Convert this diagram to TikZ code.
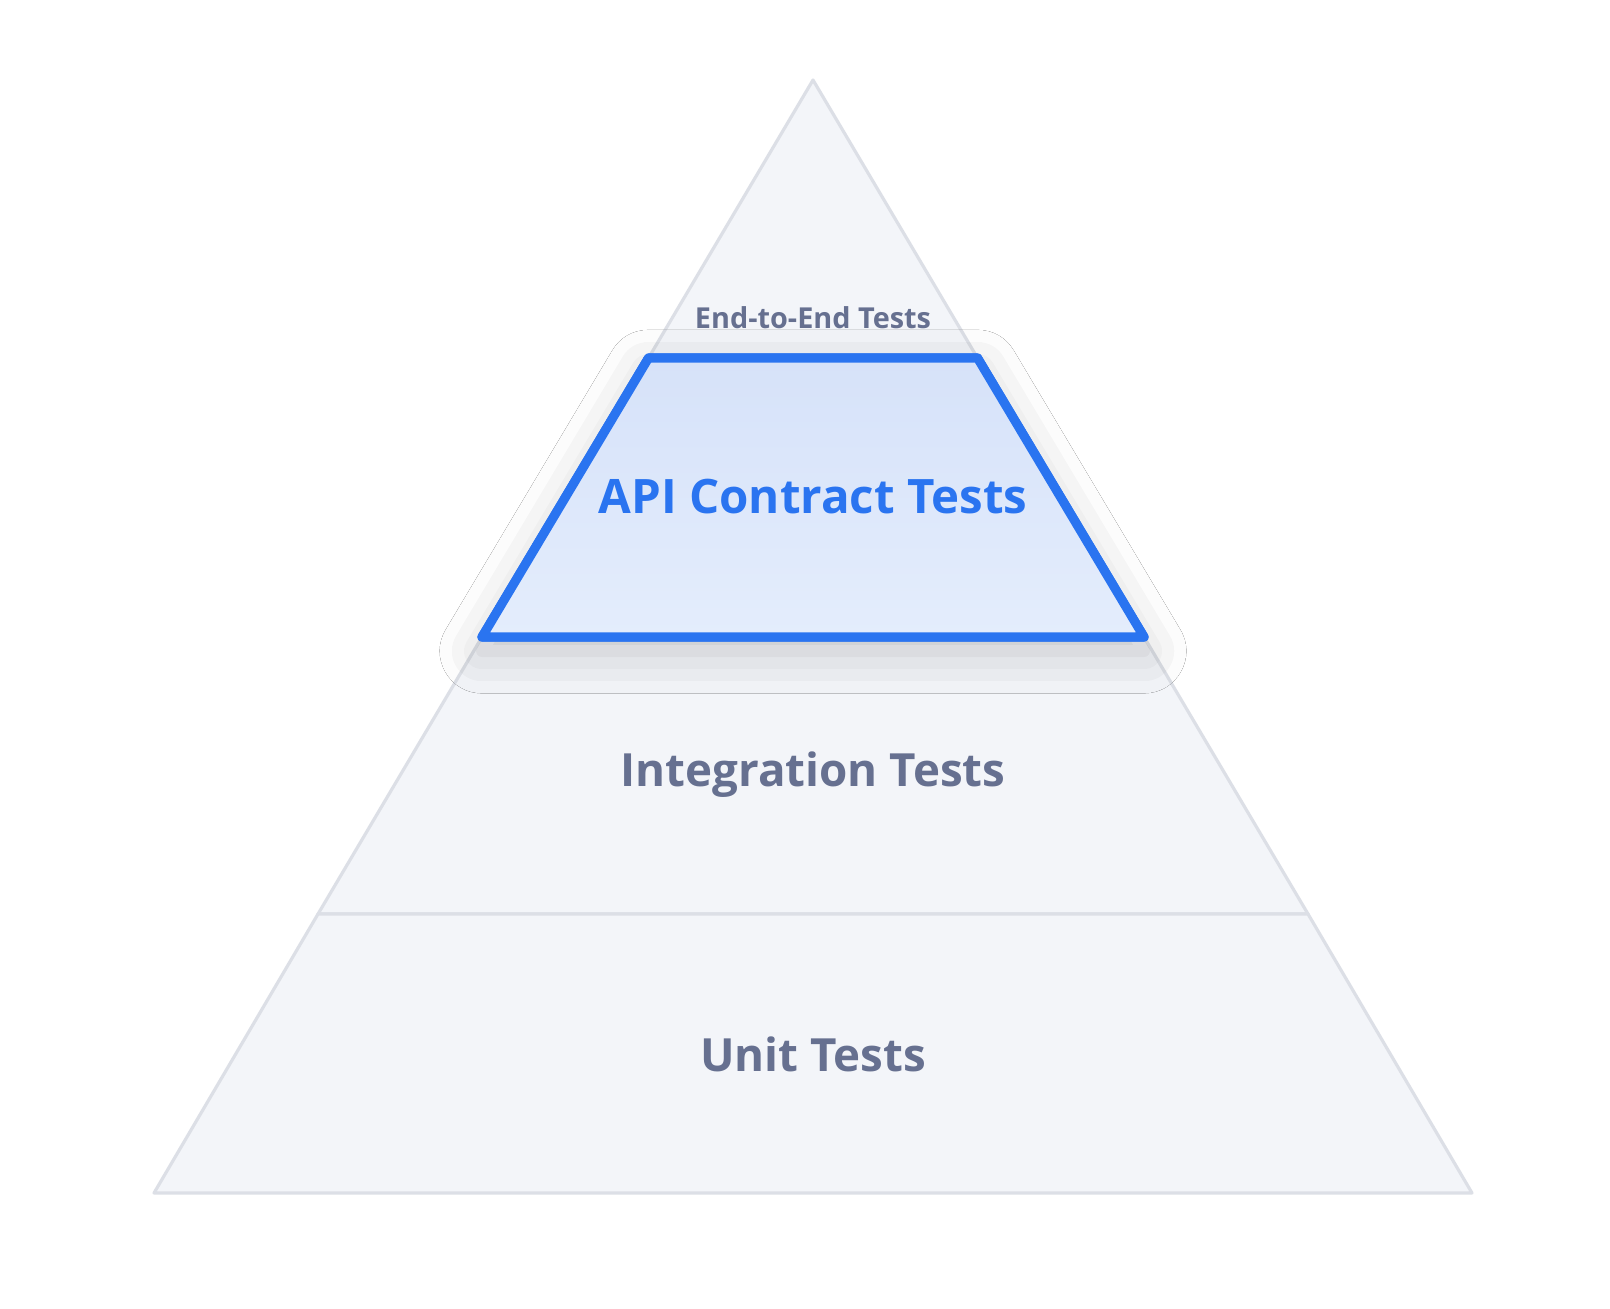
\documentclass[tikz,border=0pt]{standalone}
\usepackage{fontspec}
\setmainfont{Open Sans}
\usetikzlibrary{shadows.blur}
\definecolor{txt}{HTML}{667090}
\definecolor{blu}{HTML}{2A74F0}
\definecolor{lay}{HTML}{F3F5F9}
\definecolor{edg}{HTML}{DCDFE6}
\begin{document}
\begin{tikzpicture}[x=0.01cm,y=-0.01cm,
  layer/.style={fill=lay,draw=edg,line width=0.9pt,line join=round},
  lbl/.style={text=txt,font=\bfseries}]
\useasboundingbox[fill=white] (0,0) rectangle (1610,1308);
\coordinate (A) at (813,80);
\draw[layer] (A) -- (648.5,358) -- (977.5,358) -- cycle;
\draw[layer] (318,914) -- (1308,914) -- (1144,637) -- (482,637) -- cycle;
\draw[layer] (154,1193) -- (1472,1193) -- (1308,914) -- (318,914) -- cycle;
\path[top color=blue!15!white, bottom color=blue!10!white, draw=blu, line width=2.6pt, line join=round,
  blur shadow={shadow xshift=0pt,shadow yshift=-4pt,shadow blur radius=12pt,shadow opacity=20}]
  (648.5,358) -- (977.5,358) -- (1144,637) -- (482,637) -- cycle;
\path[top color={rgb,255:red,214;green,226;blue,249}, bottom color={rgb,255:red,228;green,237;blue,252}, draw=blu, line width=2.6pt, line join=round]
  (648.5,358) -- (977.5,358) -- (1144,637) -- (482,637) -- cycle;
\node[lbl,font=\bfseries\fontsize{8.2}{10}\selectfont] (e2e) at (813,318) {End-to-End Tests};
\node[lbl,text=blu,font=\bfseries\fontsize{13.5}{16}\selectfont] (api) at (813,497) {API Contract Tests};
\node[lbl,font=\bfseries\fontsize{13}{16}\selectfont] (int) at (813,775) {Integration Tests};
\node[lbl,font=\bfseries\fontsize{13}{16}\selectfont] (unit) at (813,1054) {Unit Tests};
\end{tikzpicture}
\end{document}
